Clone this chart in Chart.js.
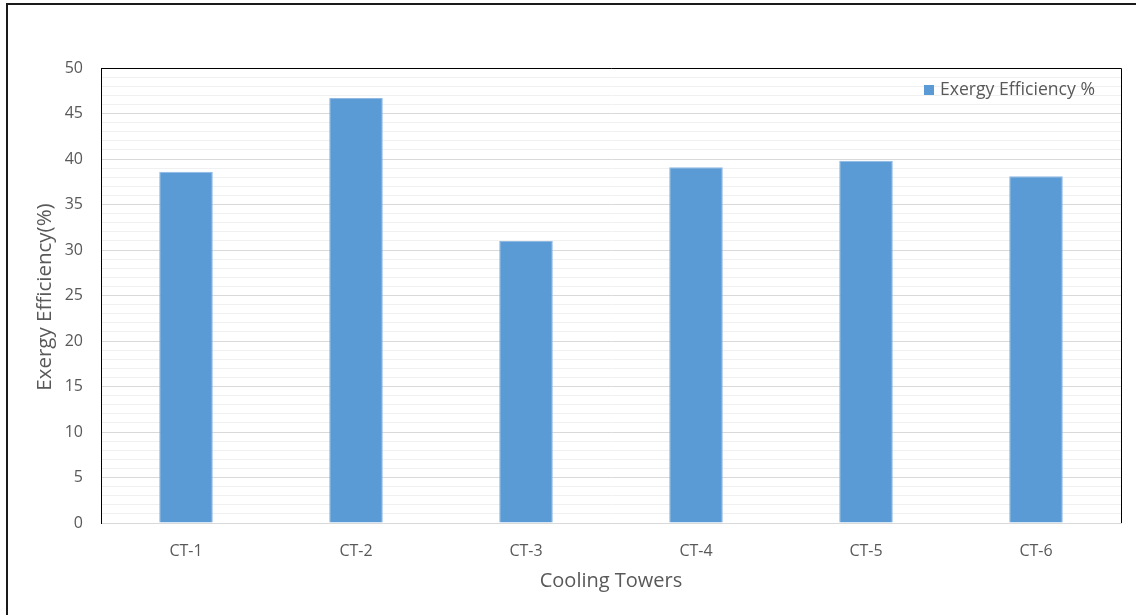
<!DOCTYPE html>
<html>
<head>
<meta charset="utf-8">
<script src="https://cdn.jsdelivr.net/npm/chart.js@4.4.0/dist/chart.umd.min.js"></script>
<style>
  html, body { margin: 0; padding: 0; background: #ffffff; }
  #wrap { width: 1136px; height: 615px; }
</style>
</head>
<body>
<div id="wrap"><canvas id="chart" width="1136" height="615"></canvas></div>
<script>
// Exergy efficiency of each cooling tower
const categories = ['CT-1', 'CT-2', 'CT-3', 'CT-4', 'CT-5', 'CT-6'];
const efficiency = [38.6, 46.7, 31.0, 39.1, 39.8, 38.1];
const seriesLabel = 'Exergy Efficiency %';
const yAxisTitle = 'Exergy Efficiency(%)';
const xAxisTitle = 'Cooling Towers';
const yMin = 0;
const yMax = 50;
const yMajorStep = 5;
const yMinorStep = 1;

const FONT = '"Open Sans", Lato, sans-serif';
const TEXT = '#595959';
const BAR = '#5B9BD5';

// Frame, plot-area border, axis titles and the legend
const decorations = {
  id: 'decorations',
  afterDraw(chart) {
    const { ctx, chartArea: a } = chart;
    ctx.save();

    // outer frame
    ctx.strokeStyle = '#1a1a1a';
    ctx.lineWidth = 2;
    ctx.strokeRect(7, 4, 1300, 800);

    // plot area top and right edges
    ctx.strokeStyle = '#000000';
    ctx.lineWidth = 1;
    ctx.beginPath();
    ctx.moveTo(a.left, a.top + 0.5);
    ctx.lineTo(a.right + 0.5, a.top + 0.5);
    ctx.lineTo(a.right + 0.5, a.bottom);
    ctx.stroke();

    ctx.fillStyle = TEXT;

    // x axis title
    ctx.font = '20px ' + FONT;
    ctx.textAlign = 'center';
    ctx.textBaseline = 'middle';
    ctx.fillText(xAxisTitle, (a.left + a.right) / 2, 581);

    // y axis title
    ctx.save();
    ctx.translate(45, 297);
    ctx.rotate(-Math.PI / 2);
    ctx.font = '20.5px ' + FONT;
    ctx.fillText(yAxisTitle, 0, 0);
    ctx.restore();

    // legend
    const label = chart.data.datasets[0].label;
    ctx.fillStyle = BAR;
    ctx.fillRect(924, 85, 10, 10);
    ctx.fillStyle = TEXT;
    ctx.font = '17.6px ' + FONT;
    ctx.textAlign = 'left';
    ctx.fillText(label, 940, 90);

    ctx.restore();
  }
};

new Chart(document.getElementById('chart'), {
  type: 'bar',
  data: {
    labels: categories,
    datasets: [{
      label: seriesLabel,
      data: efficiency,
      backgroundColor: BAR,
      borderColor: '#8FB8E3',
      borderWidth: 1,
      categoryPercentage: 1,
      barPercentage: 0.315
    }]
  },
  options: {
    responsive: false,
    animation: false,
    devicePixelRatio: 1,
    layout: { padding: { left: 0, top: 68, right: 15, bottom: 0 } },
    plugins: {
      legend: { display: false },
      tooltip: { enabled: false }
    },
    scales: {
      x: {
        grid: { display: false, drawTicks: false },
        border: { display: true, color: '#d9d9d9', width: 1 },
        ticks: { color: TEXT, font: { family: FONT, size: 16 }, padding: 19 },
        afterFit(scale) { scale.height = 92; }
      },
      y: {
        min: yMin,
        max: yMax,
        grid: {
          drawTicks: false,
          color(ctx) {
            const v = ctx.tick ? ctx.tick.value : 0;
            return v % yMajorStep === 0 ? '#d9d9d9' : '#f0f0f0';
          }
        },
        border: { display: true, color: '#000000', width: 1 },
        ticks: {
          stepSize: yMinorStep,
          autoSkip: false,
          color: TEXT,
          font: { family: FONT, size: 16 },
          padding: 18,
          callback(value) { return value % yMajorStep === 0 ? value : ''; }
        },
        afterFit(scale) { scale.width = 101; }
      }
    }
  },
  plugins: [decorations]
});
</script>
</body>
</html>
